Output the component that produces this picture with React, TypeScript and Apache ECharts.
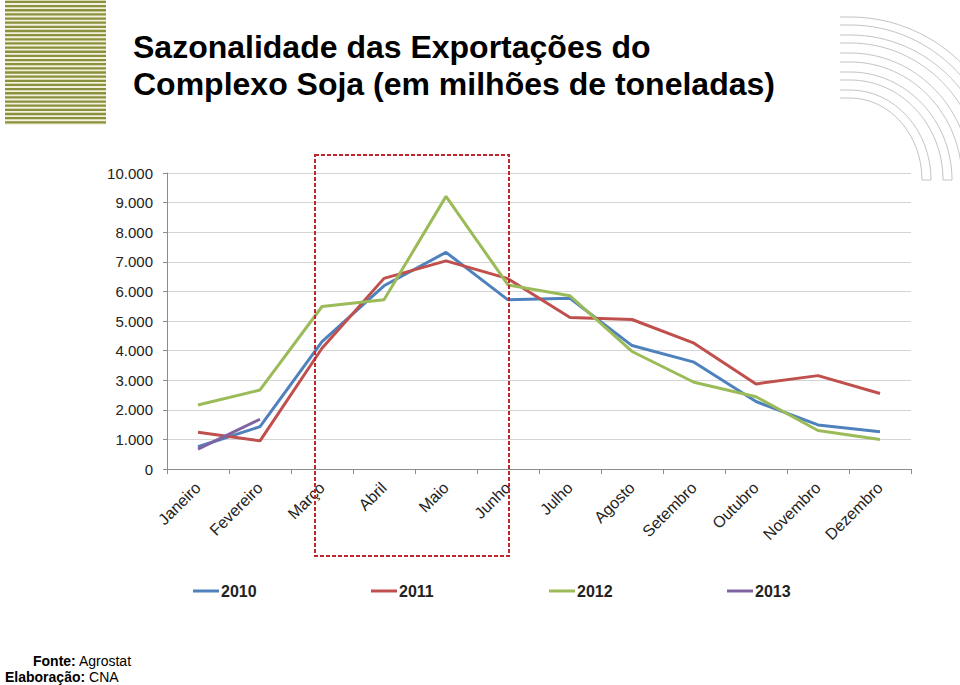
import React, { useEffect, useRef } from "react";
import * as echarts from "echarts";

const categories = [
  "Janeiro", "Fevereiro", "Março", "Abril", "Maio", "Junho",
  "Julho", "Agosto", "Setembro", "Outubro", "Novembro", "Dezembro",
];
const seriesNames = ["2010", "2011", "2012", "2013"];
const values2010 = [750, 1430, 4300, 6190, 7320, 5715, 5770, 4170, 3610, 2280, 1490, 1260];
const values2011 = [1240, 950, 4080, 6440, 7030, 6430, 5120, 5050, 4250, 2875, 3155, 2550];
const values2012 = [2160, 2670, 5490, 5715, 9210, 6220, 5850, 3970, 2930, 2440, 1300, 1000];
const values2013 = [670, 1680];
const seriesColors = ["#4F81BD", "#C0504D", "#9BBB59", "#8064A2"];
const titleLines = ["Sazonalidade das Exportações do", "Complexo Soja (em milhões de toneladas)"];

const FONT = "'Liberation Sans', Arial, sans-serif";

export default function App() {
  const ref = useRef<HTMLDivElement>(null);

  useEffect(() => {
    if (!ref.current) return;
    const chart = echarts.init(ref.current, null, { renderer: "svg" });
    const allValues = [values2010, values2011, values2012, values2013];

    const graphics: any[] = [];
    // striped logo top-left
    graphics.push({
      type: "rect",
      shape: { x: 5, y: 0, width: 101, height: 125 },
      style: { fill: "#F3F3DD" },
      silent: true,
    });
    for (let i = 0; i < 30; i++) {
      graphics.push({
        type: "rect",
        shape: { x: 5, y: 0.8 + i * 4.15, width: 101, height: 2.3 },
        style: { fill: "#8C8F3E" },
        silent: true,
      });
    }
    // decorative arcs top-right
    const bands = [
      [17, 25, 1000, 1010],
      [35, 43, 982, 992],
      [53, 62, 962, 971],
      [72, 80, 943, 952],
      [90, 98, 922, 931],
    ];
    bands.forEach((b) => {
      [[b[0], b[3]], [b[1], b[2]]].forEach(([ty, ex]) => {
        const rx = ex - 850;
        const ry = 180 - ty;
        graphics.push({
          type: "line",
          shape: { x1: 840, y1: ty, x2: 850, y2: ty },
          style: { stroke: "#C4C4C4", lineWidth: 1 },
          silent: true,
        });
        graphics.push({
          type: "bezierCurve",
          shape: {
            x1: 850, y1: ty,
            cpx1: 850 + 0.552 * rx, cpy1: ty,
            cpx2: ex, cpy2: 180 - 0.552 * ry,
            x2: ex, y2: 180,
          },
          style: { stroke: "#C4C4C4", lineWidth: 1, fill: "none" },
          silent: true,
        });
      });
      graphics.push({
        type: "line",
        shape: { x1: b[2], y1: 180, x2: b[3], y2: 180 },
        style: { stroke: "#C4C4C4", lineWidth: 1 },
        silent: true,
      });
    });
    // title
    graphics.push({
      type: "text",
      left: 133,
      top: 28,
      style: {
        text: titleLines.join("\n"),
        font: `bold 32px ${FONT}`,
        lineHeight: 37,
        fill: "#000",
      },
    });
    // dashed highlight rectangle
    graphics.push({
      type: "rect",
      z: 100,
      shape: { x: 315, y: 155, width: 194, height: 401 },
      style: { fill: "none", stroke: "#C0272D", lineWidth: 2, lineDash: [4, 2] },
      silent: true,
    });
    // footer
    graphics.push({
      type: "text",
      left: 33,
      top: 654,
      style: {
        text: "{b|Fonte:} Agrostat",
        rich: { b: { fontWeight: "bold", fontSize: 14, fontFamily: FONT, fill: "#000" } },
        fontSize: 14,
        fontFamily: FONT,
        fill: "#000",
      },
    });
    graphics.push({
      type: "text",
      left: 5,
      top: 670,
      style: {
        text: "{b|Elaboração:} CNA",
        rich: { b: { fontWeight: "bold", fontSize: 14, fontFamily: FONT, fill: "#000" } },
        fontSize: 14,
        fontFamily: FONT,
        fill: "#000",
      },
    });

    const legendLefts = [193, 371, 549, 727];

    chart.setOption({
      animation: false,
      backgroundColor: "#fff",
      textStyle: { fontFamily: FONT },
      grid: { left: 167, right: 49, top: 173, bottom: 216, containLabel: false },
      legend: seriesNames.map((n, i) => ({
        data: [n],
        left: legendLefts[i],
        top: 583,
        padding: 0,
        icon: "rect",
        itemWidth: 26,
        itemHeight: 3,
        itemGap: 0,
        textStyle: { fontFamily: FONT, fontSize: 16, fontWeight: "bold", color: "#222", padding: [0, 0, 0, -3] },
      })),
      xAxis: {
        type: "category",
        data: categories,
        boundaryGap: true,
        axisLine: { lineStyle: { color: "#8C8C8C", width: 1 } },
        axisTick: { show: true, length: 5, lineStyle: { color: "#8C8C8C" } },
        axisLabel: {
          rotate: 45,
          margin: 16,
          fontSize: 16,
          color: "#222",
          fontFamily: FONT,
          interval: 0,
        },
      },
      yAxis: {
        type: "value",
        min: 0,
        max: 10000,
        interval: 1000,
        axisLine: { show: true, lineStyle: { color: "#8C8C8C", width: 1 } },
        axisTick: { show: true, length: 4, lineStyle: { color: "#8C8C8C" } },
        splitLine: { lineStyle: { color: "#D4D4D4", width: 1 } },
        axisLabel: {
          margin: 14,
          fontSize: 15,
          color: "#222",
          fontFamily: FONT,
          formatter: (v: number) => (v === 0 ? "0" : `${v / 1000}.000`),
        },
      },
      series: seriesNames.map((n, i) => ({
        name: n,
        type: "line",
        data: allValues[i],
        symbol: "none",
        smooth: false,
        lineStyle: { width: 3, color: seriesColors[i] },
        itemStyle: { color: seriesColors[i] },
      })),
      graphic: graphics,
    });

    return () => chart.dispose();
  }, []);

  return (
    <div
      ref={ref}
      style={{ position: "absolute", left: 0, top: 0, width: 960, height: 685 }}
    />
  );
}
